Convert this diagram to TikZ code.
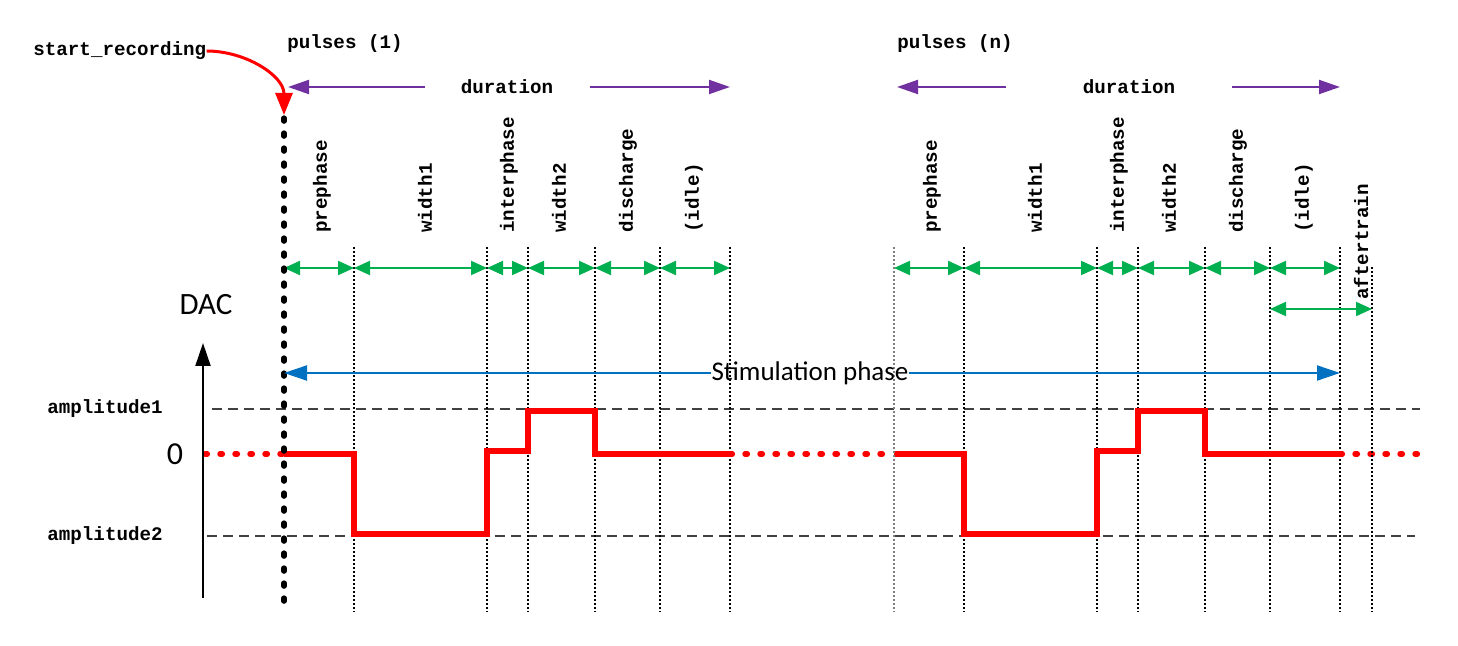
\documentclass[tikz,border=0pt]{standalone}
\usepackage{fontspec}
\setmainfont{Carlito}
\setmonofont{Liberation Mono}
\usetikzlibrary{arrows.meta}
\definecolor{durviolet}{RGB}{112,48,160}
\definecolor{seggreen}{RGB}{0,176,80}
\definecolor{stimblue}{RGB}{0,112,192}
\definecolor{levelgray}{RGB}{64,64,64}
\tikzset{
  mono/.style={font=\ttfamily\bfseries\fontsize{9.6}{11}\selectfont, inner sep=0pt},
  seglabel/.style={mono, rotate=90, anchor=west},
  tickline/.style={black, line width=.55pt, dash pattern=on 1pt off 1pt},
  segarrow/.style={seggreen, line width=1pt, {Triangle[length=8pt,width=7pt]}-{Triangle[length=8pt,width=7pt]}},
  durarrow/.style={durviolet, line width=1pt, -{Triangle[length=10.5pt,width=7pt]}},
  stimarrow/.style={stimblue, line width=1pt, -{Triangle[length=11.5pt,width=7.5pt]}},
  levelline/.style={levelgray, line width=1pt, dash pattern=on 5pt off 3pt},
  signal/.style={red, line width=2.7pt},
  signaldots/.style={red, line width=2.7pt, line cap=round, dash pattern=on 1.2pt off 6.3pt},
}
\begin{document}
\begin{tikzpicture}[x=.5pt, y=-.5pt]
\useasboundingbox (0,0) rectangle (1458,646);
% levels
\node[mono, anchor=west] (amp1) at (47,409) {amplitude1};
\node[mono, anchor=west] (amp2) at (47,536) {amplitude2};
\coordinate (amp1R) at (1420,409);
\coordinate (amp2R) at (1415,536);
\draw[levelline] ([xshift=24.5pt]amp1.east) -- (amp1R);
\draw[levelline] ([xshift=22pt]amp2.east) -- (amp2R);
% the two pulses
\foreach \o/\q/\n in {0/a/1, 610/b/n} {
 \node[mono, anchor=west] (pulse\q) at (287+\o,44) {pulses (\n)};
 \foreach \x [count=\i from 0] in {284,354,487,528,595,660,730}
  \coordinate (\q\i) at (\x+\o,268);
 \foreach \x in {354,487,528,595,660,730}
  \draw[tickline] (\x+\o,247) -- (\x+\o,612);
 \foreach \i [remember=\i as \j (initially 0)] in {1,...,6}
  \draw[segarrow] (\q\j) -- (\q\i);
 \foreach \t/\x [count=\k] in {prephase/322, width1/425, interphase/509, width2/559, discharge/628, {(idle)}/694}
  \node[seglabel] (lab\q\k) at (\x+\o,233) {\t};
 \draw[signal] (284+\o,454) -- (354+\o,454) -- (354+\o,534) -- (487+\o,534) -- (487+\o,451)
  -- (528+\o,451) -- (528+\o,411) -- (595+\o,411) -- (595+\o,454) -- (730+\o,454);
}
\draw[signaldots] (205,454) -- (284,454);
\draw[signaldots] (730,454) -- (894,454);
\draw[signaldots] (1340,454) -- (1420,454);
% start of pulse n and aftertrain
\draw[tickline, gray] (894,247) -- (894,612);
\draw[tickline] (1372,267) -- (1372,612);
\coordinate (b5low) at (1270,309);
\coordinate (b7) at (1372,309);
\draw[segarrow] (b5low) -- (b7);
\node[seglabel] (labaftertrain) at (1361,300) {aftertrain};
% recording start
\draw[black, line width=2.6pt, line cap=round, dash pattern=on 1.6pt off 5.9pt] (284,118) -- (284,612);
\node[mono, anchor=west] (srec) at (33,51) {start\_recording};
\coordinate (recT) at (284,115);
\draw[red, line width=1.5pt, -{Triangle[length=11pt,width=8.5pt]}] (srec.east) to[out=0, in=90] (recT);
% durations
\node[mono] (dura) at (507,87) {duration};
\node[mono] (durb) at (1129,87) {duration};
\coordinate (duraL) at (288,87);
\coordinate (duraR) at (730,87);
\coordinate (durbL) at (897,87);
\coordinate (durbR) at (1340,87);
\draw[durarrow] ([xshift=-18pt]dura.west) -- (duraL);
\draw[durarrow] ([xshift=18.5pt]dura.east) -- (duraR);
\draw[durarrow] ([xshift=-38.5pt]durb.west) -- (durbL);
\draw[durarrow] ([xshift=28.5pt]durb.east) -- (durbR);
% stimulation phase
\node[font=\fontsize{13.5}{16}\selectfont, inner sep=0pt] (stim) at (810,373) {Stimulation phase};
\coordinate (stimL) at (284,373);
\coordinate (stimR) at (1340,373);
\draw[stimarrow] (stim) -- (stimL);
\draw[stimarrow] (stim) -- (stimR);
% DAC axis
\node[font=\fontsize{15.5}{18}\selectfont, inner sep=0pt] (dac) at (206,305) {DAC};
\node[font=\fontsize{16}{18}\selectfont, inner sep=0pt] (zero) at (175,454) {0};
\coordinate (axisB) at (203,598);
\coordinate (axisT) at (203,343);
\draw[black, line width=1pt, -{Triangle[length=11.5pt,width=7.5pt]}] (axisB) -- (axisT);
\end{tikzpicture}
\end{document}
